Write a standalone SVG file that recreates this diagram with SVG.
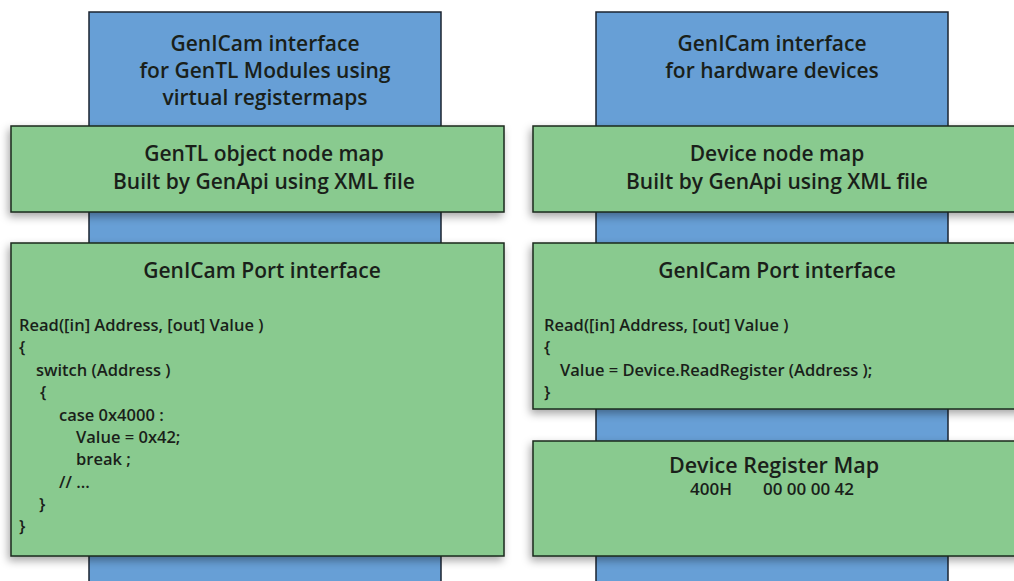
<svg xmlns="http://www.w3.org/2000/svg" width="1014" height="581" viewBox="0 0 1014 581">
<defs>
<filter id="sh" x="-10%" y="-10%" width="120%" height="130%">
<feDropShadow dx="-2" dy="4" stdDeviation="4" flood-color="#000" flood-opacity="0.35"/>
</filter>
<style>
.blue{fill:#679fd6;stroke:#1b2430;stroke-width:1.5}
.green{fill:#89ca8f;stroke:#1b2a1e;stroke-width:1.5}
.t{font-family:"Open Sans","Noto Sans",sans-serif;font-weight:600;font-size:21px;fill:#1a1f1a;text-anchor:middle}
.c{font-family:"Open Sans","Noto Sans",sans-serif;font-weight:600;font-size:16.5px;fill:#1a1f1a}
</style>
</defs>
<rect width="1014" height="581" fill="#fff"/>
<g id="left-column">
<rect class="blue" x="89" y="12" width="352" height="580"/>
<text class="t" x="265" y="51">GenICam interface</text>
<text class="t" x="265" y="78">for GenTL Modules using</text>
<text class="t" x="265" y="105">virtual registermaps</text>
</g>
<g id="right-column">
<rect class="blue" x="596" y="12" width="352" height="580"/>
<text class="t" x="772" y="51">GenICam interface</text>
<text class="t" x="772" y="78">for hardware devices</text>
</g>
<g id="gentl-node-map">
<rect class="green" filter="url(#sh)" x="11" y="126" width="493" height="86"/>
<text class="t" x="264" y="161">GenTL object node map</text>
<text class="t" x="264" y="189">Built by GenApi using XML file</text>
</g>
<g id="device-node-map">
<rect class="green" filter="url(#sh)" x="533" y="126" width="493" height="86"/>
<text class="t" x="777" y="161">Device node map</text>
<text class="t" x="777" y="189">Built by GenApi using XML file</text>
</g>
<g id="left-port">
<rect class="green" filter="url(#sh)" x="11" y="243" width="493" height="313"/>
<text class="t" x="262" y="278">GenICam Port interface</text>
<text class="c" x="19" y="331">Read([in] Address, [out] Value )</text>
<text class="c" x="19" y="353">{</text>
<text class="c" x="36" y="376">switch (Address )</text>
<text class="c" x="40" y="398">{</text>
<text class="c" x="59" y="421">case 0x4000 :</text>
<text class="c" x="76" y="443">Value = 0x42;</text>
<text class="c" x="76" y="465">break ;</text>
<text class="c" x="59" y="488">// ...</text>
<text class="c" x="39" y="510">}</text>
<text class="c" x="19" y="532">}</text>
</g>
<g id="right-port">
<rect class="green" filter="url(#sh)" x="533" y="243" width="493" height="166"/>
<text class="t" x="777" y="278">GenICam Port interface</text>
<text class="c" x="544" y="331">Read([in] Address, [out] Value )</text>
<text class="c" x="544" y="353">{</text>
<text class="c" x="560" y="376">Value = Device.ReadRegister (Address );</text>
<text class="c" x="544" y="398">}</text>
</g>
<g id="device-register-map">
<rect class="green" filter="url(#sh)" x="533" y="441" width="493" height="115"/>
<text class="t" x="774" y="473" style="font-size:21.5px">Device Register Map</text>
<text class="c" x="690" y="495" style="font-size:17px">400H</text>
<text class="c" x="763" y="495" style="font-size:17px">00 00 00 42</text>
</g>
<g id="connectors"/>
</svg>
